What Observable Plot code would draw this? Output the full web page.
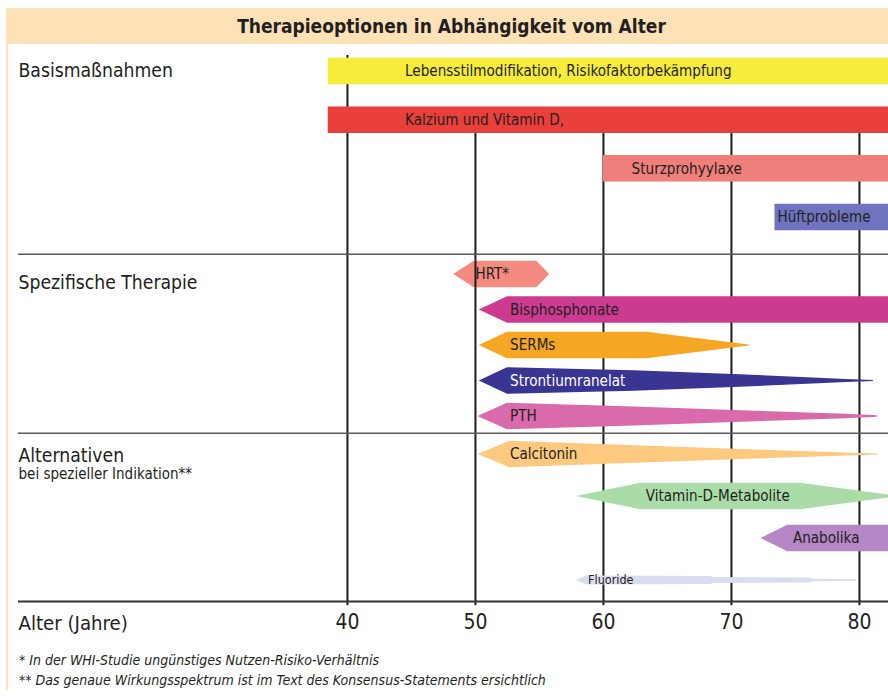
<!DOCTYPE html>
<html>
<head>
<meta charset="utf-8">
<script src="https://cdn.jsdelivr.net/npm/d3@7"></script>
<script src="https://cdn.jsdelivr.net/npm/@observablehq/plot@0.6"></script>
<style>
  html, body { margin: 0; padding: 0; background: #fff; overflow: hidden; }
  body { width: 888px; height: 700px; position: relative;
         font-family: "Liberation Sans Narrow", "DejaVu Sans Condensed", "Roboto", sans-serif; color: #231f20; }
  #edge { position: absolute; left: 6px; top: 8px; width: 2px; height: 682px; background: #fde2b7; }
  #title { position: absolute; left: 7px; top: 8px; width: 881px; height: 36px; background: #fde2b7;
           display: flex; align-items: center; justify-content: center;
           font-weight: bold; font-size: 19px; padding-left: 8px; box-sizing: border-box; }
  #chart { position: absolute; left: 0; top: 44px; width: 888px; }
  #chart svg { display: block; background: transparent !important; }
  #notes { position: absolute; left: 19px; top: 650px; font-style: italic; font-size: 14px; line-height: 20px; }
</style>
</head>
<body>
<div id="edge"></div>
<div id="title"></div>
<div id="chart"></div>
<div id="notes"></div>
<script>
// ---------- data ----------
const chartTitle = "Therapieoptionen in Abhängigkeit vom Alter";
const xTicks = [40, 50, 60, 70, 80];
const axisTitle = "Alter (Jahre)";
const groupNames = ["Basismaßnahmen", "Spezifische Therapie", "Alternativen"];
const groupNote = "bei spezieller Indikation**";
const footnotes = [
  "* In der WHI-Studie ungünstiges Nutzen-Risiko-Verhältnis",
  "** Das genaue Wirkungsspektrum ist im Text des Konsensus-Statements ersichtlich"
];

const therapies = [
  "Lebensstilmodifikation, Risikofaktorbekämpfung",
  "Kalzium und Vitamin D,",
  "Sturzprohyylaxe",
  "Hüftprobleme",
  "HRT*",
  "Bisphosphonate",
  "SERMs",
  "Strontiumranelat",
  "PTH",
  "Calcitonin",
  "Vitamin-D-Metabolite",
  "Anabolika",
  "Fluoride"
];
const therapyGroup = [0, 0, 0, 0, 1, 1, 1, 1, 1, 2, 2, 2, 2];
const therapyColors = ["#f7eb3b", "#e9403b", "#f07f7c", "#7074c0", "#f58b80", "#cc3b8f",
  "#f5a623", "#3a3493", "#d96aab", "#fcc97e", "#a9dca7", "#b587c6", "#dcdcf1"];
const labelColors = ["#231f20", "#231f20", "#231f20", "#231f20", "#231f20", "#231f20",
  "#231f20", "#ffffff", "#231f20", "#231f20", "#231f20", "#231f20", "#231f20"];
const labelAges = [44.5, 44.5, 62.2, 73.6, 50.0, 52.7, 52.7, 52.7, 52.7, 52.7, 63.3, 74.8, 58.8];

// outline of each shape: ages (years) and relative thickness at that age
const outlineAges = [
  [38.5, 82.4],
  [38.5, 82.4],
  [60.0, 82.4],
  [73.4, 82.4],
  [48.3, 49.9, 54.8, 55.8],
  [50.3, 52.5, 82.4],
  [50.3, 52.5, 63.4, 71.4],
  [50.3, 52.5, 62.4, 70.2, 79.0, 81.1],
  [50.2, 52.5, 62.4, 70.2, 79.0, 81.4],
  [50.2, 52.7, 59.8, 70.2, 79.0, 81.5],
  [57.9, 62.9, 75.4, 82.4],
  [72.3, 74.4, 82.4],
  [57.9, 58.7, 68.4, 68.6, 76.2, 76.4, 79.8]
];
const outlineWidths = [
  [1, 1],
  [1, 1],
  [1, 1],
  [1, 1],
  [0, 1, 1, 0],
  [0, 1, 1],
  [0, 1, 1, 0.04],
  [0, 1, 0.78, 0.49, 0.12, 0.04],
  [0, 1, 0.72, 0.45, 0.17, 0.06],
  [0, 1, 0.75, 0.40, 0.12, 0.04],
  [0, 1, 1, 0.1],
  [0, 1, 1],
  [0, 0.34, 0.30, 0.22, 0.18, 0.1, 0.06]
];

// ---------- layout ----------
const FONT = '"Liberation Sans Narrow", "DejaVu Sans Condensed", "Roboto", sans-serif';
const xDomain = [14.3, 82.27];
const layout = [
  {height: 211, marginBottom: 1, domain: [-0.555, 3.76]},
  {height: 179, marginBottom: 1, domain: [-0.535, 4.479]},
  {height: 207, marginBottom: 40, domain: [-0.476, 3.5]}
];
const groupLabelDy = [-1, 8, 1];
const barPx = 26.5;

document.getElementById("title").textContent = chartTitle;
document.getElementById("notes").innerHTML = footnotes.map(t => `<div>${t}</div>`).join("");

const chart = document.getElementById("chart");
groupNames.forEach((gName, g) => {
  const L = layout[g];
  const members = therapies.map((t, i) => i).filter(i => therapyGroup[i] === g);
  const rowOf = new Map(members.map((i, k) => [i, k]));
  const step = (L.height - L.marginBottom) / (L.domain[1] - L.domain[0]);
  const half = barPx / step / 2;

  const pts = [];
  members.forEach(i => {
    outlineAges[i].forEach((a, j) => {
      const w = outlineWidths[i][j];
      pts.push({name: therapies[i], age: a, lo: rowOf.get(i) - w * half, hi: rowOf.get(i) + w * half});
    });
  });

  const isLast = g === groupNames.length - 1;
  const marks = [
    Plot.ruleX(xTicks, {
      x: d => d,
      y1: d => (g === 0 ? (d === 40 ? -0.33 : 1) : L.domain[0]),
      y2: d => (isLast ? L.domain[1] + 0.1 : L.domain[1]),
      stroke: "#1c1c1c", strokeWidth: 2
    }),
    Plot.area(pts, {
      x1: "age", y1: "lo", y2: "hi", z: "name", fill: "name", curve: "linear", clip: true
    })
  ];
  if (g === 1) {
    // the 50-year line shows through the HRT shape
    const hrt = therapies.indexOf("HRT*");
    marks.push(Plot.ruleX([50], {
      x: d => d, y1: rowOf.get(hrt) - half, y2: rowOf.get(hrt) + half,
      stroke: "#1c1c1c", strokeWidth: 2
    }));
  }
  marks.push(
    Plot.text(members, {
      x: i => labelAges[i], y: i => rowOf.get(i), text: i => therapies[i],
      fill: i => labelColors[i], textAnchor: "start", lineAnchor: "middle",
      fontSize: i => (therapies[i] === "Fluoride" ? 12.5 : 15.1), fontFamily: FONT
    }),
    Plot.text([gName], {
      frameAnchor: "left", y: () => 0, text: d => d, textAnchor: "start", lineAnchor: "middle",
      dy: groupLabelDy[g], fontSize: 19.2, fill: "#231f20", fontFamily: FONT
    }),
    Plot.ruleY([L.domain[1]], {stroke: isLast ? "#333" : "#5a5a5a", strokeWidth: 2})
  );
  if (isLast) {
    marks.push(Plot.text([groupNote], {
      frameAnchor: "left", y: () => 0, text: d => d, textAnchor: "start", lineAnchor: "middle",
      dy: 20, fontSize: 15, fill: "#231f20", fontFamily: FONT
    }));
    marks.push(Plot.text([axisTitle], {
      frameAnchor: "bottom-left", text: d => d, textAnchor: "start", lineAnchor: "middle",
      dy: 22, fontSize: 20.2, fill: "#231f20", fontFamily: FONT
    }));
  }

  const svg = Plot.plot({
    width: 888, height: L.height,
    marginLeft: 18, marginRight: 0, marginTop: 0, marginBottom: L.marginBottom,
    style: {fontFamily: FONT, fontSize: "21px", color: "#231f20", background: "transparent", overflow: "hidden"},
    x: isLast
      ? {domain: xDomain, ticks: xTicks, tickSize: 0, tickPadding: 13, label: null}
      : {domain: xDomain, axis: null},
    y: {domain: L.domain, reverse: true, axis: null},
    color: {domain: therapies, range: therapyColors},
    marks
  });
  chart.appendChild(svg);
});
</script>
</body>
</html>
